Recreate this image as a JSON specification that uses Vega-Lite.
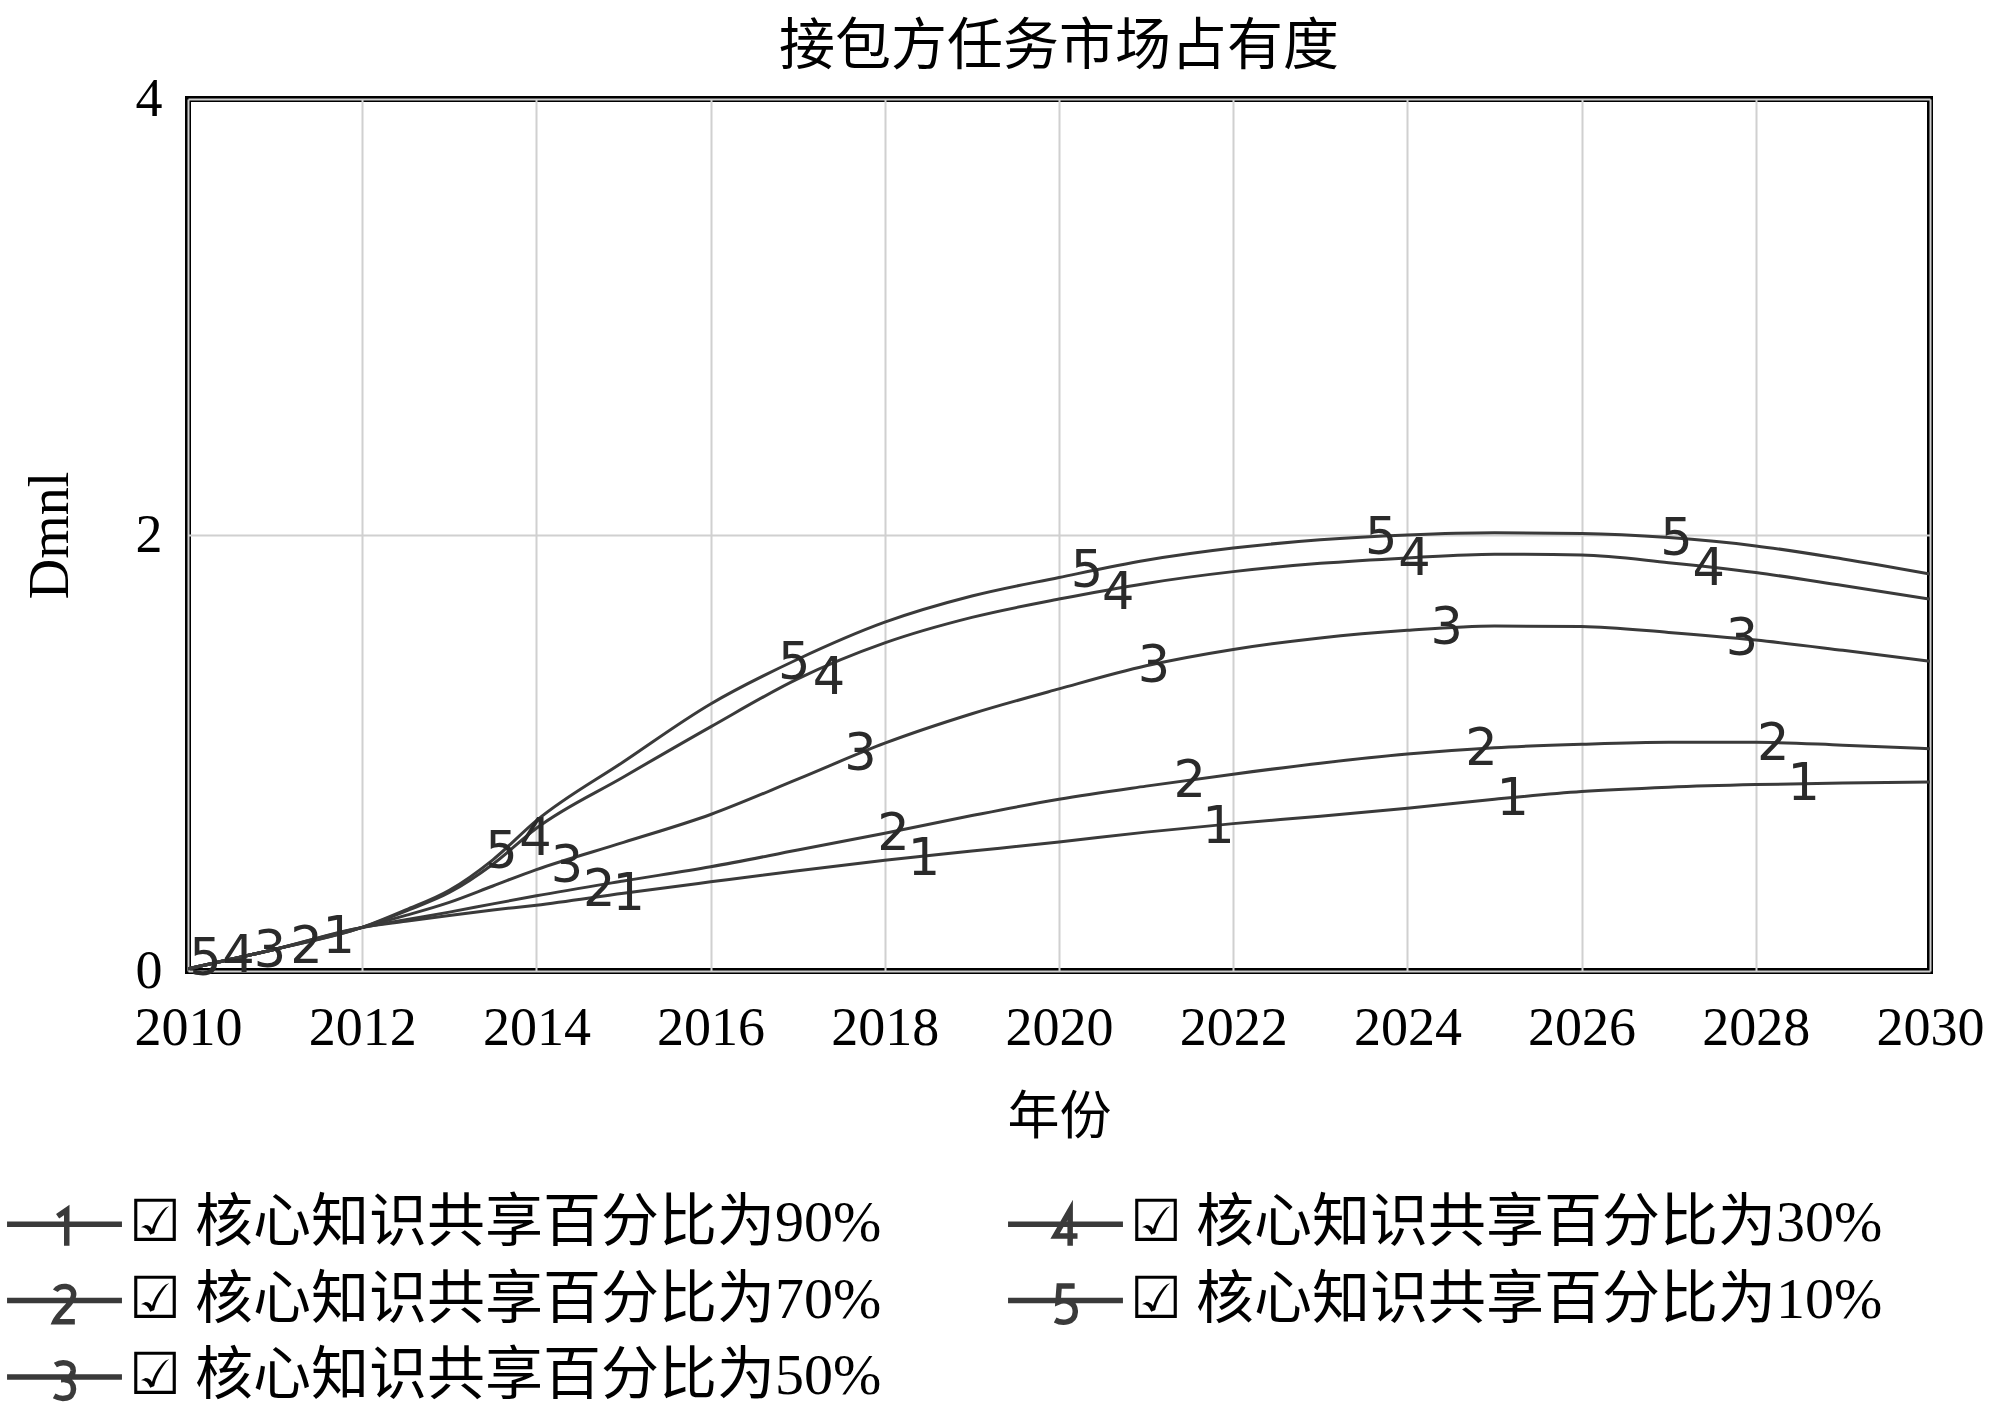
{
  "$schema": "https://vega.github.io/schema/vega-lite/v6.json",
  "width": 1742,
  "height": 872,
  "autosize": {"type": "none"},
  "padding": {"left": 188, "top": 99, "right": 70, "bottom": 447},
  "background": "white",
  "title": {"text": "接包方任务市场占有度", "font": "Noto Sans CJK SC", "fontSize": 56, "fontWeight": "normal", "color": "#000", "anchor": "middle", "offset": -4, "frame": "group"},
  "config": {
    "view": {"stroke": "#000", "strokeWidth": 6}
  },
  "datasets": {
    "curves": [
      {"year": 2010, "value": 0.01, "series": "核心知识共享百分比为90%"},
      {"year": 2011, "value": 0.10, "series": "核心知识共享百分比为90%"},
      {"year": 2012, "value": 0.2, "series": "核心知识共享百分比为90%"},
      {"year": 2012.5, "value": 0.228, "series": "核心知识共享百分比为90%"},
      {"year": 2013, "value": 0.255, "series": "核心知识共享百分比为90%"},
      {"year": 2013.5, "value": 0.28, "series": "核心知识共享百分比为90%"},
      {"year": 2014, "value": 0.302, "series": "核心知识共享百分比为90%"},
      {"year": 2015, "value": 0.357, "series": "核心知识共享百分比为90%"},
      {"year": 2016, "value": 0.409, "series": "核心知识共享百分比为90%"},
      {"year": 2017, "value": 0.46, "series": "核心知识共享百分比为90%"},
      {"year": 2018, "value": 0.508, "series": "核心知识共享百分比为90%"},
      {"year": 2019, "value": 0.55, "series": "核心知识共享百分比为90%"},
      {"year": 2020, "value": 0.592, "series": "核心知识共享百分比为90%"},
      {"year": 2021, "value": 0.637, "series": "核心知识共享百分比为90%"},
      {"year": 2022, "value": 0.676, "series": "核心知识共享百分比为90%"},
      {"year": 2023, "value": 0.71, "series": "核心知识共享百分比为90%"},
      {"year": 2024, "value": 0.747, "series": "核心知识共享百分比为90%"},
      {"year": 2025, "value": 0.788, "series": "核心知识共享百分比为90%"},
      {"year": 2026, "value": 0.823, "series": "核心知识共享百分比为90%"},
      {"year": 2027, "value": 0.843, "series": "核心知识共享百分比为90%"},
      {"year": 2028, "value": 0.855, "series": "核心知识共享百分比为90%"},
      {"year": 2029, "value": 0.862, "series": "核心知识共享百分比为90%"},
      {"year": 2030, "value": 0.867, "series": "核心知识共享百分比为90%"},

      {"year": 2010, "value": 0.01, "series": "核心知识共享百分比为70%"},
      {"year": 2011, "value": 0.10, "series": "核心知识共享百分比为70%"},
      {"year": 2012, "value": 0.2, "series": "核心知识共享百分比为70%"},
      {"year": 2012.5, "value": 0.235, "series": "核心知识共享百分比为70%"},
      {"year": 2013, "value": 0.27, "series": "核心知识共享百分比为70%"},
      {"year": 2013.5, "value": 0.308, "series": "核心知识共享百分比为70%"},
      {"year": 2014, "value": 0.345, "series": "核心知识共享百分比为70%"},
      {"year": 2015, "value": 0.413, "series": "核心知识共享百分比为70%"},
      {"year": 2016, "value": 0.478, "series": "核心知识共享百分比为70%"},
      {"year": 2017, "value": 0.555, "series": "核心知识共享百分比为70%"},
      {"year": 2018, "value": 0.632, "series": "核心知识共享百分比为70%"},
      {"year": 2019, "value": 0.713, "series": "核心知识共享百分比为70%"},
      {"year": 2020, "value": 0.788, "series": "核心知识共享百分比为70%"},
      {"year": 2021, "value": 0.848, "series": "核心知识共享百分比为70%"},
      {"year": 2022, "value": 0.903, "series": "核心知识共享百分比为70%"},
      {"year": 2023, "value": 0.953, "series": "核心知识共享百分比为70%"},
      {"year": 2024, "value": 0.995, "series": "核心知识共享百分比为70%"},
      {"year": 2025, "value": 1.024, "series": "核心知识共享百分比为70%"},
      {"year": 2026, "value": 1.04, "series": "核心知识共享百分比为70%"},
      {"year": 2027, "value": 1.049, "series": "核心知识共享百分比为70%"},
      {"year": 2028, "value": 1.049, "series": "核心知识共享百分比为70%"},
      {"year": 2029, "value": 1.036, "series": "核心知识共享百分比为70%"},
      {"year": 2030, "value": 1.02, "series": "核心知识共享百分比为70%"},

      {"year": 2010, "value": 0.01, "series": "核心知识共享百分比为50%"},
      {"year": 2011, "value": 0.10, "series": "核心知识共享百分比为50%"},
      {"year": 2012, "value": 0.2, "series": "核心知识共享百分比为50%"},
      {"year": 2012.5, "value": 0.255, "series": "核心知识共享百分比为50%"},
      {"year": 2013, "value": 0.315, "series": "核心知识共享百分比为50%"},
      {"year": 2013.5, "value": 0.39, "series": "核心知识共享百分比为50%"},
      {"year": 2014, "value": 0.465, "series": "核心知识共享百分比为50%"},
      {"year": 2015, "value": 0.59, "series": "核心知识共享百分比为50%"},
      {"year": 2016, "value": 0.718, "series": "核心知识共享百分比为50%"},
      {"year": 2017, "value": 0.88, "series": "核心知识共享百分比为50%"},
      {"year": 2018, "value": 1.045, "series": "核心知识共享百分比为50%"},
      {"year": 2019, "value": 1.18, "series": "核心知识共享百分比为50%"},
      {"year": 2020, "value": 1.294, "series": "核心知识共享百分比为50%"},
      {"year": 2021, "value": 1.40, "series": "核心知识共享百分比为50%"},
      {"year": 2022, "value": 1.475, "series": "核心知识共享百分比为50%"},
      {"year": 2023, "value": 1.528, "series": "核心知识共享百分比为50%"},
      {"year": 2024, "value": 1.563, "series": "核心知识共享百分比为50%"},
      {"year": 2025, "value": 1.583, "series": "核心知识共享百分比为50%"},
      {"year": 2026, "value": 1.58, "series": "核心知识共享百分比为50%"},
      {"year": 2027, "value": 1.553, "series": "核心知识共享百分比为50%"},
      {"year": 2028, "value": 1.518, "series": "核心知识共享百分比为50%"},
      {"year": 2029, "value": 1.471, "series": "核心知识共享百分比为50%"},
      {"year": 2030, "value": 1.421, "series": "核心知识共享百分比为50%"},

      {"year": 2010, "value": 0.01, "series": "核心知识共享百分比为30%"},
      {"year": 2011, "value": 0.10, "series": "核心知识共享百分比为30%"},
      {"year": 2012, "value": 0.2, "series": "核心知识共享百分比为30%"},
      {"year": 2012.5, "value": 0.275, "series": "核心知识共享百分比为30%"},
      {"year": 2013, "value": 0.36, "series": "核心知识共享百分比为30%"},
      {"year": 2013.5, "value": 0.49, "series": "核心知识共享百分比为30%"},
      {"year": 2014, "value": 0.655, "series": "核心知识共享百分比为30%"},
      {"year": 2015, "value": 0.89, "series": "核心知识共享百分比为30%"},
      {"year": 2016, "value": 1.12, "series": "核心知识共享百分比为30%"},
      {"year": 2017, "value": 1.34, "series": "核心知识共享百分比为30%"},
      {"year": 2018, "value": 1.505, "series": "核心知识共享百分比为30%"},
      {"year": 2019, "value": 1.622, "series": "核心知识共享百分比为30%"},
      {"year": 2020, "value": 1.706, "series": "核心知识共享百分比为30%"},
      {"year": 2021, "value": 1.778, "series": "核心知识共享百分比为30%"},
      {"year": 2022, "value": 1.832, "series": "核心知识共享百分比为30%"},
      {"year": 2023, "value": 1.87, "series": "核心知识共享百分比为30%"},
      {"year": 2024, "value": 1.895, "series": "核心知识共享百分比为30%"},
      {"year": 2025, "value": 1.912, "series": "核心知识共享百分比为30%"},
      {"year": 2026, "value": 1.908, "series": "核心知识共享百分比为30%"},
      {"year": 2027, "value": 1.873, "series": "核心知识共享百分比为30%"},
      {"year": 2028, "value": 1.828, "series": "核心知识共享百分比为30%"},
      {"year": 2029, "value": 1.768, "series": "核心知识共享百分比为30%"},
      {"year": 2030, "value": 1.706, "series": "核心知识共享百分比为30%"},

      {"year": 2010, "value": 0.01, "series": "核心知识共享百分比为10%"},
      {"year": 2011, "value": 0.10, "series": "核心知识共享百分比为10%"},
      {"year": 2012, "value": 0.2, "series": "核心知识共享百分比为10%"},
      {"year": 2012.5, "value": 0.28, "series": "核心知识共享百分比为10%"},
      {"year": 2013, "value": 0.37, "series": "核心知识共享百分比为10%"},
      {"year": 2013.5, "value": 0.51, "series": "核心知识共享百分比为10%"},
      {"year": 2014, "value": 0.69, "series": "核心知识共享百分比为10%"},
      {"year": 2015, "value": 0.96, "series": "核心知识共享百分比为10%"},
      {"year": 2016, "value": 1.225, "series": "核心知识共享百分比为10%"},
      {"year": 2017, "value": 1.43, "series": "核心知识共享百分比为10%"},
      {"year": 2018, "value": 1.60, "series": "核心知识共享百分比为10%"},
      {"year": 2019, "value": 1.72, "series": "核心知识共享百分比为10%"},
      {"year": 2020, "value": 1.805, "series": "核心知识共享百分比为10%"},
      {"year": 2021, "value": 1.884, "series": "核心知识共享百分比为10%"},
      {"year": 2022, "value": 1.94, "series": "核心知识共享百分比为10%"},
      {"year": 2023, "value": 1.978, "series": "核心知识共享百分比为10%"},
      {"year": 2024, "value": 2.0, "series": "核心知识共享百分比为10%"},
      {"year": 2025, "value": 2.01, "series": "核心知识共享百分比为10%"},
      {"year": 2026, "value": 2.007, "series": "核心知识共享百分比为10%"},
      {"year": 2027, "value": 1.988, "series": "核心知识共享百分比为10%"},
      {"year": 2028, "value": 1.95, "series": "核心知识共享百分比为10%"},
      {"year": 2029, "value": 1.89, "series": "核心知识共享百分比为10%"},
      {"year": 2030, "value": 1.821, "series": "核心知识共享百分比为10%"}
    ],
    "markers": [
      {"digit": "5", "year": 2010.2, "value": 0.065},
      {"digit": "4", "year": 2010.58, "value": 0.08},
      {"digit": "3", "year": 2010.94, "value": 0.10},
      {"digit": "2", "year": 2011.36, "value": 0.12},
      {"digit": "1", "year": 2011.73, "value": 0.165},
      {"digit": "5", "year": 2013.6, "value": 0.554},
      {"digit": "4", "year": 2013.99, "value": 0.615},
      {"digit": "3", "year": 2014.35, "value": 0.493},
      {"digit": "2", "year": 2014.72, "value": 0.379},
      {"digit": "1", "year": 2015.06, "value": 0.363},
      {"digit": "5", "year": 2016.96, "value": 1.424},
      {"digit": "4", "year": 2017.36, "value": 1.355},
      {"digit": "3", "year": 2017.72, "value": 1.004},
      {"digit": "2", "year": 2018.10, "value": 0.638},
      {"digit": "1", "year": 2018.45, "value": 0.523},
      {"digit": "5", "year": 2020.32, "value": 1.844},
      {"digit": "4", "year": 2020.68, "value": 1.744},
      {"digit": "3", "year": 2021.09, "value": 1.409},
      {"digit": "2", "year": 2021.50, "value": 0.882},
      {"digit": "1", "year": 2021.83, "value": 0.668},
      {"digit": "5", "year": 2023.70, "value": 1.996},
      {"digit": "4", "year": 2024.08, "value": 1.897},
      {"digit": "3", "year": 2024.45, "value": 1.584},
      {"digit": "2", "year": 2024.85, "value": 1.027},
      {"digit": "1", "year": 2025.21, "value": 0.798},
      {"digit": "5", "year": 2027.09, "value": 1.989},
      {"digit": "4", "year": 2027.46, "value": 1.851},
      {"digit": "3", "year": 2027.84, "value": 1.531},
      {"digit": "2", "year": 2028.20, "value": 1.050},
      {"digit": "1", "year": 2028.55, "value": 0.867}
    ]
  },
  "encoding": {
    "x": {
      "field": "year", "type": "quantitative",
      "scale": {"domain": [2010, 2030], "nice": false, "zero": false},
      "axis": {
        "values": [2010, 2012, 2014, 2016, 2018, 2020, 2022, 2024, 2026, 2028, 2030],
        "format": "d", "ticks": false, "domain": false,
        "grid": true, "gridColor": "#d0d0d0", "gridWidth": 2,
        "labelFont": "Liberation Serif", "labelFontSize": 54, "labelColor": "#000",
        "labelPadding": 30, "labelBaseline": "top", "labelFlush": false, "labelOverlap": false, "labelBound": false,
        "title": "年份", "titleFont": "Noto Sans CJK SC", "titleFontSize": 52, "titleFontWeight": "normal", "titleColor": "#000", "titlePadding": 37
      }
    },
    "y": {
      "field": "value", "type": "quantitative",
      "scale": {"domain": [0, 4], "nice": false, "zero": true},
      "axis": {
        "values": [0, 2, 4], "ticks": false, "domain": false,
        "grid": true, "gridColor": "#d0d0d0", "gridWidth": 2,
        "labelFont": "Liberation Serif", "labelFontSize": 54, "labelColor": "#000",
        "labelPadding": 26, "labelFlush": false, "labelOverlap": false,
        "title": "Dmnl", "titleFont": "Liberation Serif", "titleFontSize": 56, "titleFontWeight": "normal", "titleColor": "#000", "titlePadding": 56
      }
    }
  },
  "layer": [
    {
      "data": {"name": "curves"},
      "mark": {"type": "line", "interpolate": "monotone", "strokeWidth": 3, "clip": true},
      "encoding": {
        "color": {
          "field": "series", "type": "nominal",
          "scale": {
            "domain": ["核心知识共享百分比为90%", "核心知识共享百分比为70%", "核心知识共享百分比为50%", "核心知识共享百分比为30%", "核心知识共享百分比为10%"],
            "range": ["#3a3a3a", "#3a3a3a", "#3a3a3a", "#3a3a3a", "#3a3a3a"]
          },
          "legend": {
            "orient": "none", "legendX": -182, "legendY": 1096,
            "columns": 2, "title": null,
            "labelFont": "Liberation Serif, Noto Sans CJK SC", "labelFontSize": 58, "labelColor": "#000", "labelLimit": 0,
            "labelExpr": "'☑ ' + datum.label",
            "symbolSize": 900, "symbolStrokeWidth": 5.5, "symbolOffset": 29.5, "labelOffset": 35,
            "columnPadding": 115, "rowPadding": 14.5,
            "encode": {
              "symbols": {
                "update": {
                  "shape": {"signal": "['M-3.83,0L3.83,0M-0.46,-0.54L0.15,-0.96L0.15,1.42', 'M-3.83,0L3.83,0M-0.61,-0.65C-0.38,-1.07,0.65,-1.07,0.61,-0.38C0.58,0.23,-0.38,0.77,-0.65,1.42L0.69,1.42', 'M-3.83,0L3.83,0M-0.61,-0.8C-0.19,-1.07,0.61,-1.0,0.58,-0.42C0.54,0.04,0.08,0.19,-0.23,0.19M0,0.19C0.8,0.19,0.8,1.42,0,1.42C-0.31,1.46,-0.54,1.34,-0.69,1.26', 'M-3.83,0L3.83,0M0.31,1.42L0.31,-0.96L-0.69,0.77L0.8,0.77', 'M-3.83,0L3.83,0M0.61,-0.96L-0.42,-0.96L-0.5,0.11C0,-0.11,0.69,0.11,0.65,0.77C0.61,1.49,-0.19,1.57,-0.69,1.3'][datum.index]"},
                  "stroke": {"value": "#222"},
                  "fill": {"value": "transparent"},
                  "strokeWidth": {"value": 5.5}
                }
              }
            }
          }
        }
      }
    },
    {
      "data": {"name": "markers"},
      "mark": {"type": "text", "font": "DejaVu Sans", "fontSize": 51, "color": "#2a2a2a", "baseline": "middle", "align": "center", "dy": 3},
      "encoding": {
        "text": {"field": "digit", "type": "nominal"}
      }
    }
  ]
}
